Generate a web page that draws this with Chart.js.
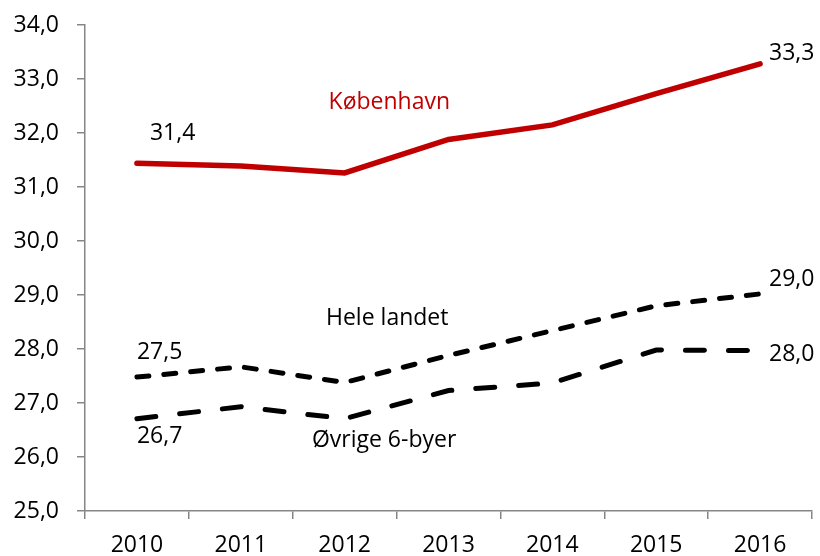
<!DOCTYPE html>
<html>
<head>
<meta charset="utf-8">
<script src="https://cdn.jsdelivr.net/npm/chart.js@4"></script>
<style>
  body { margin: 0; background: #fff; }
</style>
</head>
<body>
<canvas id="myChart" width="820" height="556"></canvas>
<script>
// data
const years = ["2010", "2011", "2012", "2013", "2014", "2015", "2016"];
const kobenhavn = [31.44, 31.39, 31.26, 31.88, 32.15, 32.73, 33.28];
const heleLandet = [27.48, 27.67, 27.38, 27.88, 28.34, 28.80, 29.02];
const ovrige = [26.71, 26.93, 26.71, 27.23, 27.37, 27.98, 27.97];
const yTicks = [25, 26, 27, 28, 29, 30, 31, 32, 33, 34];

const fontFamily = "'Open Sans', sans-serif";
const fmt = v => v.toFixed(1).replace(".", ",");

// labels next to first / last points: [dataset, index, dx, dy, align]
const pointLabels = [
  [0, 0, 13, -30, "left"],
  [0, 6, 9, -10, "left"],
  [1, 0, 0, -25, "left"],
  [1, 6, 9, -14, "left"],
  [2, 0, 0, 18, "left"],
  [2, 6, 9, 4, "left"]
];
// series names: [text, x index, y value, colour]
const seriesNames = [
  ["København", 2.43, 32.56, "#C00000"],
  ["Hele landet", 2.41, 28.56, "#000"],
  ["Øvrige 6-byer", 2.38, 26.3, "#000"]
];

const textPlugin = {
  id: "texts",
  afterDatasetsDraw(chart) {
    const ctx = chart.ctx;
    const xs = chart.scales.x, ys = chart.scales.y;
    ctx.save();
    ctx.font = "23px " + fontFamily;
    ctx.textBaseline = "middle";
    pointLabels.forEach(([d, i, dx, dy, al]) => {
      const v = chart.data.datasets[d].data[i];
      ctx.fillStyle = "#000";
      ctx.textAlign = al;
      ctx.fillText(fmt(v), xs.getPixelForValue(i) + dx, ys.getPixelForValue(v) + dy);
    });
    ctx.textAlign = "center";
    seriesNames.forEach(([t, xi, yv, c]) => {
      ctx.fillStyle = c;
      const x0 = xs.getPixelForValue(Math.floor(xi));
      const x1 = xs.getPixelForValue(Math.floor(xi) + 1);
      ctx.fillText(t, x0 + (x1 - x0) * (xi % 1), ys.getPixelForValue(yv));
    });
    ctx.restore();
  }
};

var ctx = document.getElementById("myChart").getContext("2d");
var chart = new Chart(ctx, {
  type: "line",
  data: {
    labels: years,
    datasets: [
      {
        label: "København",
        data: kobenhavn,
        borderColor: "#C00000",
        borderWidth: 5.5,
        borderCapStyle: "round"
      },
      {
        label: "Hele landet",
        data: heleLandet,
        borderColor: "#000",
        borderWidth: 5,
        borderDash: [12, 15],
        borderCapStyle: "round"
      },
      {
        label: "Øvrige 6-byer",
        data: ovrige,
        borderColor: "#000",
        borderWidth: 5,
        borderDash: [19, 24],
        borderCapStyle: "round"
      }
    ]
  },
  options: {
    responsive: false,
    animation: false,
    elements: { point: { radius: 0 }, line: { tension: 0 } },
    layout: { padding: { top: 25, right: 8, left: 0, bottom: 0 } },
    plugins: { legend: { display: false }, tooltip: { enabled: false } },
    scales: {
      x: {
        offset: true,
        grid: { offset: true, drawOnChartArea: false, tickLength: 8, color: "#868686", lineWidth: 1.5 },
        border: { color: "#868686", width: 1.5 },
        ticks: { color: "#000", font: { family: fontFamily, size: 23 }, padding: 13, maxRotation: 0 },
        afterFit(scale) { scale.height = 45; scale.paddingLeft = 0; scale.paddingRight = 0; }
      },
      y: {
        min: 25,
        max: 34,
        afterBuildTicks(scale) { scale.ticks = yTicks.map(v => ({ value: v })); },
        grid: { drawOnChartArea: false, tickLength: 8, color: "#868686", lineWidth: 1.5 },
        border: { color: "#868686", width: 1.5 },
        ticks: { color: "#000", font: { family: fontFamily, size: 23 }, padding: 18, callback: v => fmt(v) },
        afterFit(scale) { scale.width = 85; scale.paddingTop = 0; scale.paddingBottom = 0; }
      }
    }
  },
  plugins: [textPlugin]
});
</script>
</body>
</html>
